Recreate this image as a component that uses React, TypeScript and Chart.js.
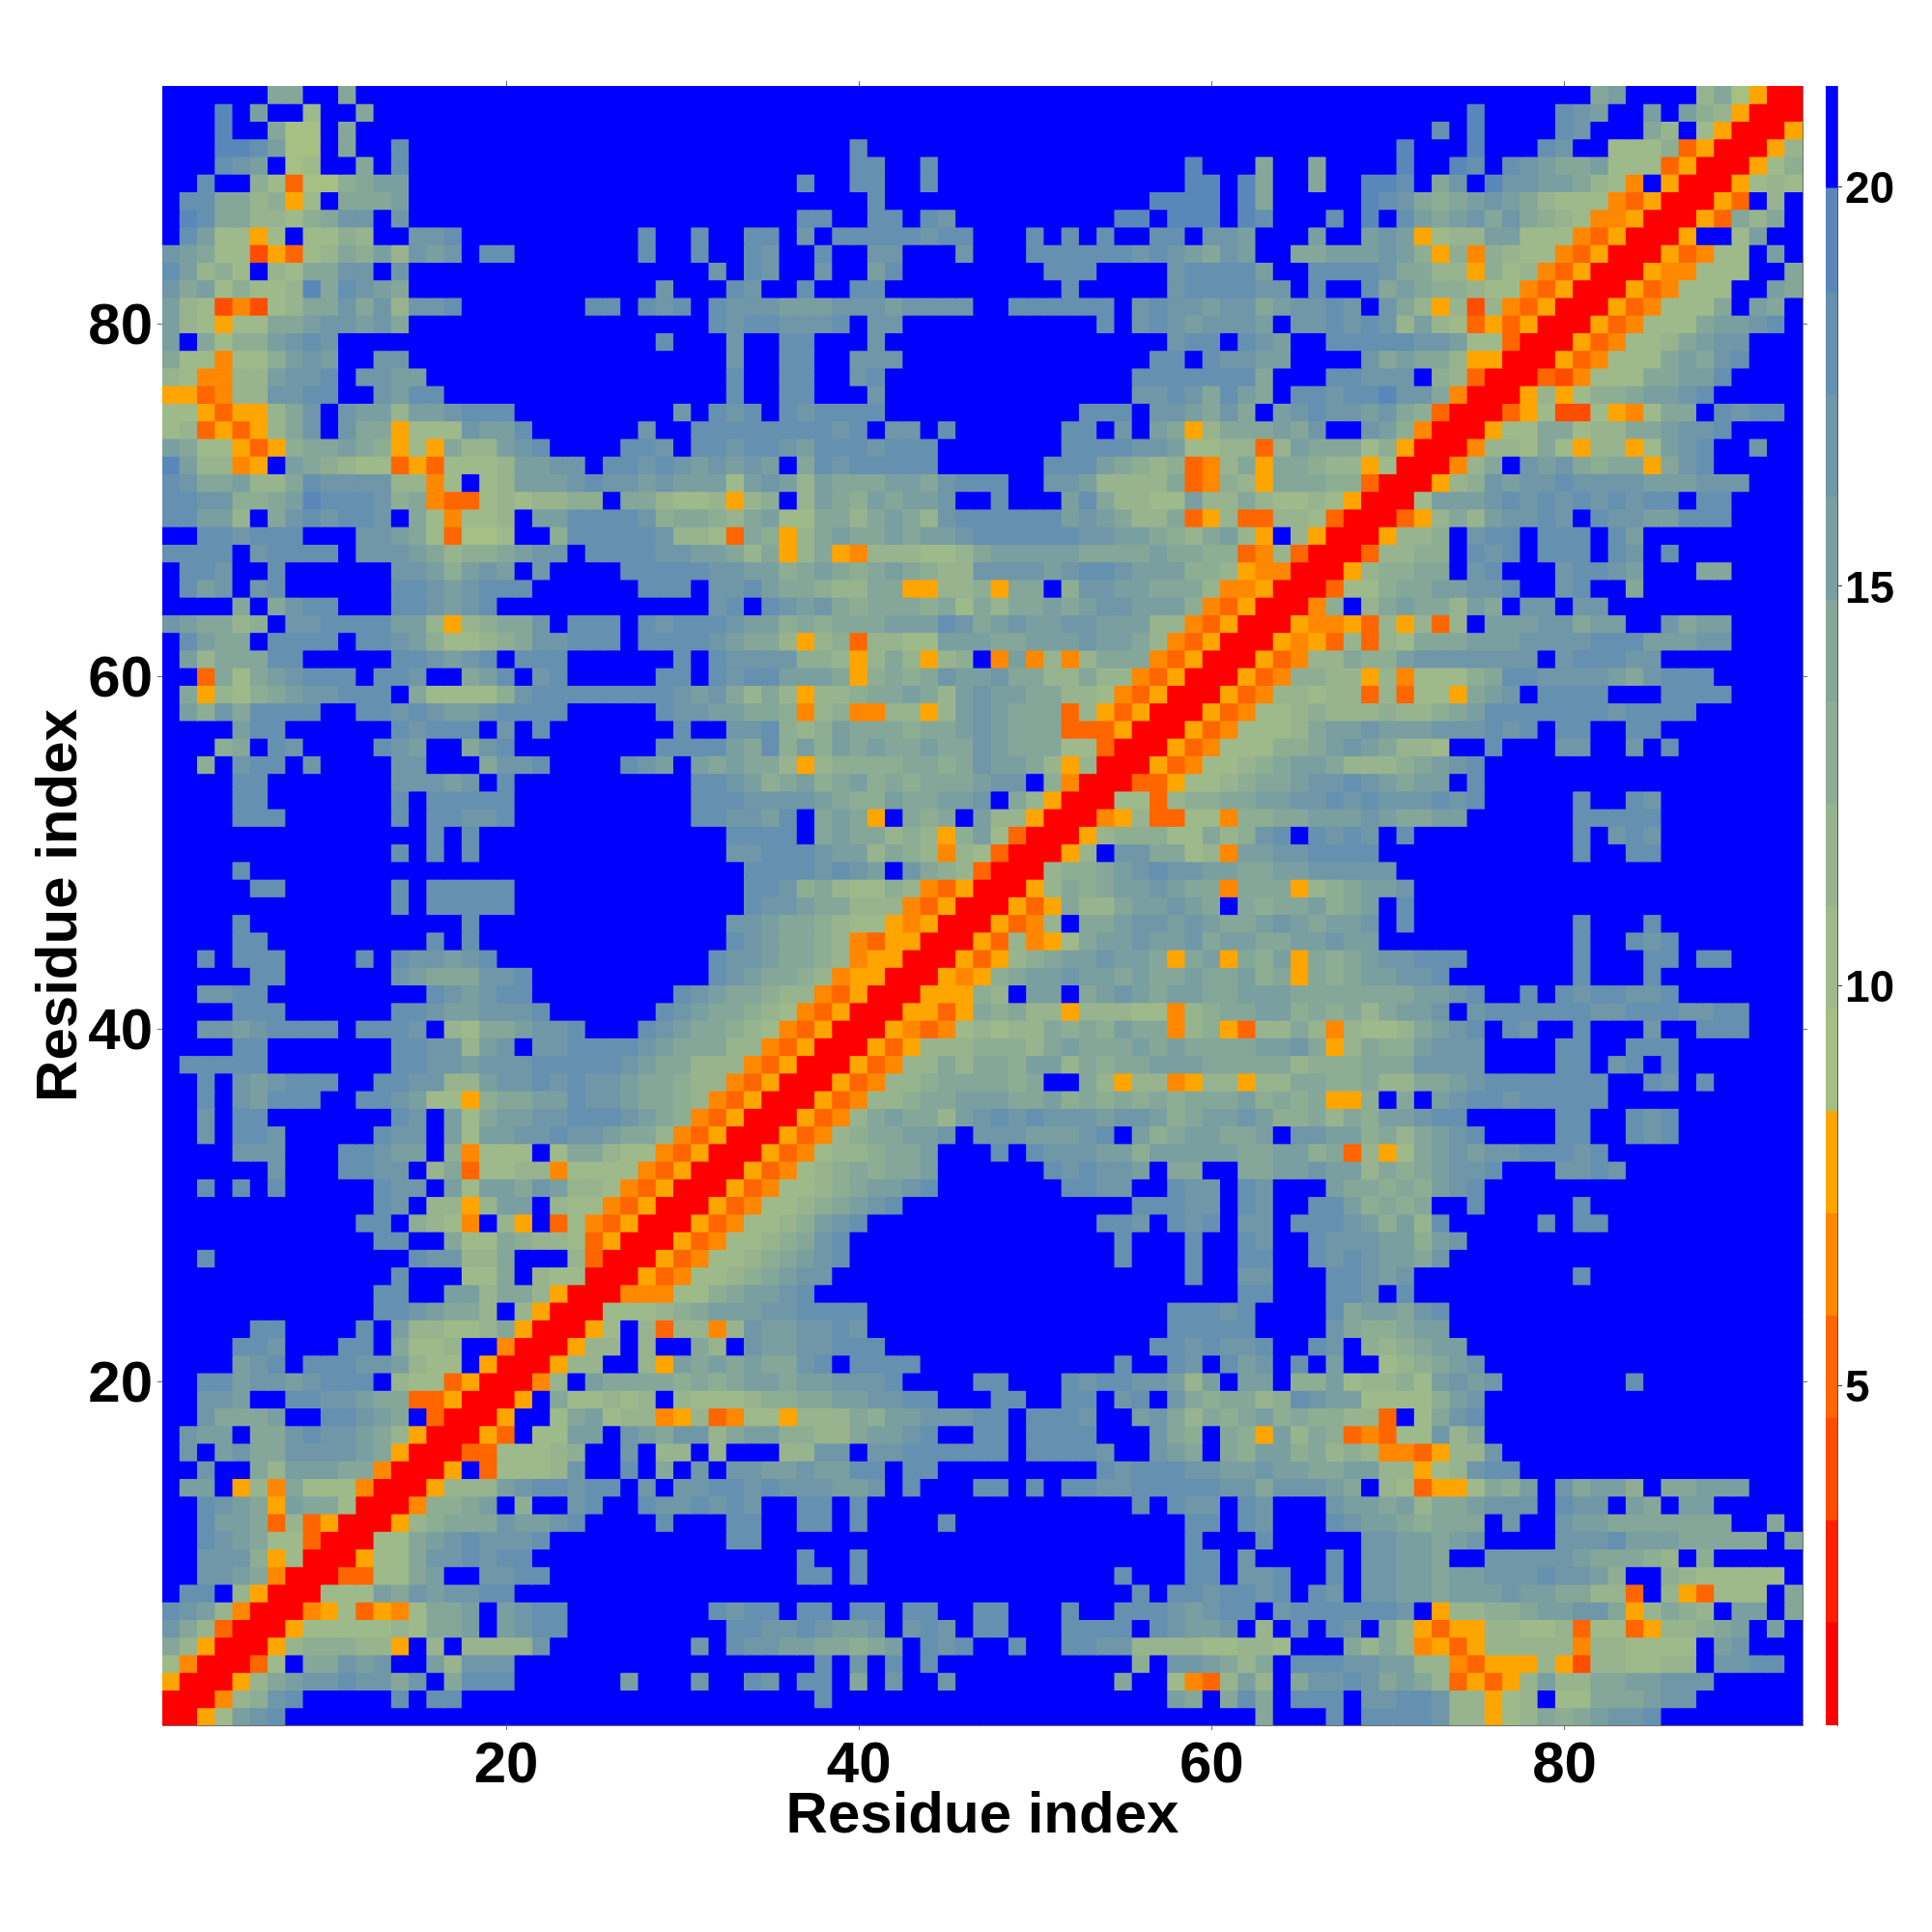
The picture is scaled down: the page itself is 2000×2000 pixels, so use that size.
import React, { useEffect, useRef } from "react";
import { Chart, registerables } from "chart.js";

Chart.register(...registerables);

const residues: number[] = Array.from({ length: 93 }, (_, i) => i + 1);
const axisTicks = [20, 40, 60, 80];
const barTicks = [5, 10, 15, 20];
const binEdges = [0.75, 2.03, 3.31, 4.59, 5.87, 7.15, 8.43, 9.71, 10.99, 12.27, 13.55, 14.83, 16.11, 17.39, 18.67, 19.98, 21.26];
const binColors = ["#ff0000", "#ff2000", "#ff4d00", "#ff6600", "#ff8800", "#ffa500", "#a6c084", "#9fba8a", "#98b48e", "#8eae94", "#85a79a", "#7a9fa0", "#6f97a8", "#6690b0", "#5a87ba", "#0000ff"];

// Per row, from residue 93 down to residue 1: "column:bins", one character per cell. Cells not listed are in the last bin.
const rowBins: string[] = [
  "7:aa 11:a 82:ab 88:8a6 91:5 92:00",
  "4:e 6:b 9:7 12:a 75:e 80:dcb 85:b 87:b987 90:5 91:000",
  "4:e 7:a 8:66 11:a 73:d 75:e 80:dc 85:a8 88:7 89:5 90:000 93:5",
  "4:eedb66 11:a 14:d 40:d 71:e 75:e 79:dc 83:7779 87:35 89:000 92:58",
  "4:dcb 8:67 12:a 14:d 40:dd 44:d 59:e 63:a 66:a 71:e 74:ed 77:dcbaab 83:777 86:35 88:000 91:579",
  "3:d 6:973 9:669a 13:bb 37:d 40:dd 44:d 59:ee 62:ea 66:a 69:eed 73:ac 76:eccbba 82:87 84:4 86:5 87:000 90:5787",
  "2:dd 4:aa89 8:5 9:7 11:aaab 41:d 57:eeee 62:ea 69:edc 72:a9abcba87 81:77 83:435 86:000 89:53 92:8",
  "2:edaa887 9:9a 11:cc 14:c 37:dd 41:dd 44:dc 55:ee 58:eee 62:ed 67:d 69:e 71:dbabcaca9 80:87 82:445 85:000 88:53a8a",
  "2:db775 7:7 9:7798 15:ccd 28:d 31:d 34:dd 37:c 39:dddddcdd 50:d 52:d 54:d 57:dd 60:ccb 66:b 69:bcba 72:5 73:788bb 78:777 81:435 84:000 87:5 90:7b",
  "1:cba77 6:253 9:78a9b8 15:cbc 19:dd 28:d 31:d 34:dc 38:d 41:cc 46:c 50:dddddd 56:cdcbacb 65:aabbbcb 72:9 73:5 74:9 75:4 76:9877 80:435 83:000 86:534 89:77 92:b",
  "1:db897 7:87aacc 14:c 32:c 34:dc 38:c 41:bd 51:ddd 58:cddddb 66:ddddca 72:a88 75:5 76:978 79:43 81:5 82:000 85:544 88:777 93:a",
  "1:cab7977 8:8ead 12:cba 29:c 33:dc 37:d 40:dd 52:d 58:cddddcc 66:d 69:dab 72:a9987 77:7 78:435 81:000 84:534 87:777 92:ba",
  "1:b87 4:242 7:78aacac8 15:ccd 25:dd 28:dcd 32:dcccbbbcccbcccc 49:dddddd 56:cdccbccab 65:ccdc 70:ca8 73:5 74:8 75:2 76:8 77:435 80:000 83:534 86:777a 91:ba",
  "1:b87 4:5 5:77aabccbca 32:dcddcccd 41:cc 54:d 56:cdcbcccb 65:ccdcdc8b87 75:3535 79:000 82:534 85:777a 89:bbcd",
  "1:b 3:a7 5:99bcdc 29:d 33:c 36:dd 41:c 58:cdd 62:dcb 67:dddddccb 75:77 77:3 78:000 81:534 84:778a 88:bcc",
  "1:a774 5:779bcb 13:cc 33:c 36:dd 40:ccc 57:dd 60:dccbb 69:cabaa8 75:55 77:000 80:534 83:777abacd",
  "1:8744 5:88bccd 12:ccbb 33:d 36:dd 40:cd 56:ddddddda 67:ddccc 73:98 75:3 76:000 79:324 82:777aabbd",
  "1:5534 5:88ccdd 13:cbdd 33:d 36:dd 41:c 56:ccdcadba 65:ddcddecca 74:4 75:000 78:585 81:79 83:9abbcd",
  "1:77535 6:5 7:8ac 11:cbb8bbcddd 30:c 32:dcd 36:dcdddd 53:ddd 57:ccbaca 64:bcdccbca9 73:3 74:000 77:357 80:22 82:7547aa 89:dcdd",
  "1:78 3:3535 7:8ac 11:caa5 15:777cbbd 28:c 31:dddddddd 39:cd 42:cc 45:d 52:dd 55:c 57:ba5 60:8aaabac 69:cb9 72:4 73:000 76:5 77:77aa788aabccd",
  "1:ba775359 9:aaba95 15:75a88bcd 27:ddc 31:ddcddcbdddc 42:ddd 52:dddd 56:ccb 59:7788 63:3 64:8baaa79 71:5 72:000 75:4 76:887a7 81:5 82:88a 84:5 85:7bcd 91:c",
  "1:eb884 6:5 8:ba98 12:773 15:537778bbcc 26:ddcd 30:cbcbcb 37:a 38:dcddddd 51:dd 53:dba989 59:34 61:8a5 64:aa988 69:57 71:000 74:4 75:8a 78:cbc 81:a9aa 85:5 86:acd",
  "1:dcaab88ad 10:cccc88 16:4 17:7 19:78bbbcdcc 28:bcbbb 33:7bcb8baaabbac 46:ddd 51:ccb8888a 59:34 61:98 63:5 64:aaa99 69:3 70:000 73:5 74:89cbccdc 82:cccbbbccc",
  "1:ddcc99ab 9:edddc9a433 19:7878899 27:aa877 32:85 34:89 37:8ba9babbc 48:d 52:bda8877b 60:88a87 65:787 68:5 69:000 72:7bbbcdcd 80:cdcdcdd 88:dd",
  "1:ddbb8 7:acdcddc 15:a747 19:78 22:bbddd 27:dcb 29:9aa9 33:8 34:ab 36:77 38:aa8aba8cdd 48:dddd 52:bcba88a8 59:35 61:8 62:33 64:8877 67:3 68:000 71:35 73:8a8 76:bccdc 82:dcc 85:bbddd",
  "3:ddcddd 12:ccba7 17:3 18:667 23:9 24:dddddc 30:88 32:7 33:3 34:a9 36:5 37:8abaababbc 47:dddddd 53:ccbba98ab8 63:5 65:8 66:5 67:000 70:5 71:889 75:cdd 79:ddd 83:db",
  "1:dddd 6:cdddd 12:cccba8 18:99abc 23:c 25:ddddcc 31:bba8a 36:5 37:8a 39:54 41:888778 47:abbb 51:bbaaaa 57:baa9 61:9 62:3 63:4 64:8 65:3 66:000 69:3 70:8899 75:dcd 79:ddd 83:dc 86:d",
  "2:ddc 7:d 14:ccb9bcb 22:c 27:dddddcc 34:bb 36:9aba9aba98 46:8 47:cccc 51:bcddcbbb 59:998 62:544 65:000 68:58 70:99aa 75:cd 80:cd 82:dcb 88:aa",
  "2:dbc 6:cd 14:ddcbcddd 28:ddd 32:ccdbaa9 39:88a 42:a 43:55 45:88 47:9 48:5 49:aa 52:9ccbbaaa8 61:445 64:000 67:3 68:77 70:9aabb 75:ccd 80:cd 84:a",
  "5:a 7:acdd 14:ddcbcd 32:cd 35:dcbca9 41:aaa9a7 47:a8aabab 54:ccbbb 59:9 60:435 63:000 66:49 69:8abaa8ba 78:cc 81:cc",
  "1:cbaa89 8:ccdddd 14:bb 16:8 17:5 18:89aac 24:ddd 28:dcdddc 34:bbb 36:9a9aaabbbdc 47:abcbbccbbb 57:88 59:435 62:000 65:5445 69:3 70:8 71:5 72:8 73:3 74:8 76:bbbccabb 86:c 87:abb",
  "2:dbaa 7:dddd 12:ddcb9 17:7789acc 24:ddd 28:ddddcbaa 36:8 37:5 38:89 40:3 41:8877bb 47:baabbbcbba 57:8 58:435 61:000 64:5453 68:8 69:3 70:87aaab 76:bbccccd 83:dd 85:bbbcc",
  "2:b8aaadd 14:ddcbcd 21:ddd 30:d 32:dcccc9 38:98 40:5 41:8a8 44:5 45:89 48:4 49:b 50:4 51:8 52:4 53:8aaa 57:435 60:000 63:534 66:88a99 71:bccccccc 80:cdddcc",
  "3:3a7abcddd 13:ddc 18:abd 22:cd 29:dd 32:dcddbbba 40:5 41:9a9acb 47:bcaa88a88 56:435 59:000 62:534 65:9988 69:5 70:8 71:4 72:7779 76:addccccbac 86:ddd",
  "2:a5 4:879abccddd 15:a77779cddd 25:ddddd 30:cbca8a 36:8 37:5 38:889aaba8b 47:cbbaa887 55:435 58:000 61:534 64:8878 68:8 69:3 70:8 71:3 72:77 74:5 75:abc 79:dddd 86:dddd",
  "2:b9cadddd 12:ddcdcbbcdddd 29:dccbbaa9 37:4 38:89 40:44 42:88 44:5 45:8b 47:cbaaa 52:3 53:8 54:535 57:000 60:534 63:7789888 70:9 71:889abddd 79:ddddcdddd",
  "5:bdd 14:dcdd 18:d 20:c 22:d 30:d 33:ccd9 37:89baaa9aab 47:cbaaa 52:333 55:5 56:000 59:534 62:7778abbcbb 72:bcccdcd 80:dd 84:dd",
  "4:9a 7:dc 13:dcb 18:acd 29:dddd 33:ba 35:d9b9babaab 45:aa 47:cbaaa 52:77 54:3 55:000 58:534 61:777 64:99abcba 71:887 76:d 80:cc 84:c 86:d",
  "3:9 5:cdd 9:c 14:cc 19:accd 27:dcb 31:baba 35:a8 37:5 38:89999aa9 46:a 47:cbba8 52:5 53:8 54:000 57:534 60:7789abba8889ab 74:cd",
  "5:dd 14:cccbc 20:d 31:ddcb 35:9ab9ab9a9aaa 47:bcc 51:9 52:4 53:000 56:33 58:5 59:7789aabccdcbabb 75:d",
  "5:dd 14:d 16:dddd 20:d 31:dddccccb 39:a99baabb 47:c 49:a8 51:5 52:000 55:77 57:3 58:8 59:99aabbccdcdcccdcd 81:d 84:dc",
  "5:ddd 14:d 16:ddccd 31:ddccbd 38:aba 41:5 43:a9a 47:b88 50:5 51:000 54:4 55:5 56:8 57:33 59:77 61:4 62:99aabbbcba 72:abb 81:ddddd",
  "16:d 18:d 33:dddd 38:abaa89 44:8 45:5 46:9 47:b7 49:3 50:000 53:5 54:899977 60:a89cd 66:dcdc 71:d 81:d 83:cdc",
  "14:d 16:d 18:d 33:ccdddcbb 41:8a98 45:4 46:8 47:7 48:3 49:000 52:5 53:8 55:ccaa7 60:8 61:4 62:bbccdddd 81:d 84:dd",
  "5:d 34:ddddcdcb 43:ca98 47:3 48:000 51:899abcdccbbaabbccccc",
  "6:dd 14:d 16:ddddd 34:ddc9a877 42:9 43:8 44:4 45:3 46:5 47:000 50:5 51:8a9abbcbaa 61:4 62:aaa 65:5 66:89abbc",
  "14:d 16:ddddd 34:dccbaa888 43:4 44:3 45:5 46:000 49:535 52:a88abbcba 62:a9aab9ab 71:d",
  "5:d 18:d 33:ccbaa9 39:877 42:545 45:000 48:534 51:8 53:aabccbcba 62:abcbabbc 71:d 81:d 85:d",
  "5:dd 16:d 18:d 33:dcbaa98 40:43 42:55 44:000 47:53 49:8 50:45 52:7abbcbbcabbaabbcbb 81:d 84:dcd",
  "3:d 5:ddd 12:d 14:dccbcd 32:dccbaa98 40:455 43:000 46:5 47:3 48:5 49:89abbcbba 58:5 59:ab 61:5 62:a9b 65:5 66:a9abccddd 81:d 85:dd 88:dd",
  "6:dd 14:cbaa 18:accd 32:dcbaa988 39:45 41:5 42:000 45:54 47:5 48:9abbcbbabaabaab9a 65:5 66:a9abbccd 81:d 85:d",
  "3:ccdd 16:dcbcdd 30:dcbaa988 38:43 40:5 41:000 44:555 47:98 50:bb 53:abcbabbaabbbaaaaaaabbc 75:d 78:d 80:dcddccd",
  "5:ddd 14:ddcbbcccd 29:dcbaa987 37:43 39:5 40:000 43:55 45:3 46:5 47:a9a88 52:5 53:88877 58:4 59:89aabb9a9a8abbc 75:cddddddccdddccd 90:d",
  "3:ccbcdddd 12:dddc 17:87aabccd 28:dcbaa987 36:43 38:5 39:000 42:5434 46:7 47:8788a9a9baa 58:4 59:89 61:5 62:3 63:88a8 67:4 68:8778abcd 77:dc 81:d 85:c 88:ddd",
  "5:dd 14:ddcc8bc 22:ccdddd 28:cbaaa88 35:43 37:5 38:000 41:535 44:888 47:9998abaaa 56:babaaa 62:abbca 67:5 68:8a99bccc 80:dd 84:dd 86:d",
  "2:ddddd 14:ddccbcc 21:cdd 24:ddd 27:cbaa888 34:43 36:5 37:000 40:534 43:88a8 47:aa9bb8a9aabbbaaaaa8999aaacccc 80:dd 83:cd 86:d",
  "3:d 5:cbcddd 13:ddcc8 18:8bccdcdc 26:cbaa988 33:43 35:5 36:000 39:534 42:889 45:aa 47:aa9a 53:a8 55:5 56:88 58:45 60:88 62:5 63:88aa99a88aabc 76:ddddddd 85:dc 88:d",
  "3:d 5:cbddd 12:ddcb 16:77 18:5 19:9aabbdc 26:cbaa98 32:43 34:5 35:000 38:534 41:889aab 47:bbaab9a9a9a9aaab9a9a 67:55 69:9 71:a 73:bcddcddd 81:dd",
  "3:c 5:dd 14:dc 17:b7abbccd 25:ddcba9 31:43 33:5 34:000 37:534 40:8abaa8b 47:cdcdcccbccb9abbcb99a8a9bbcdd 80:dd 84:dcd",
  "3:c 5:ddc 13:dcc 17:b7bbccdd 24:ccbaa8 30:43 32:5 33:000 36:534 39:89aabbc 47:cccbbbcd 56:b9abbaab 65:ccbb9a8abcd 80:dd 84:dcd",
  "5:ccc 11:ddcbb 17:94 19:777 23:7aa877 29:43 31:5 32:000 35:534 38:788 41:9aab 48:d 50:dcccbb9bbb 60:bbaabb9a 68:3 69:8 70:5 71:7abcb 76:ccdddcd",
  "7:c 11:ddcc 16:8a 18:3 19:7788 23:4 24:7777 28:43 30:5 31:000 34:534 37:789a9aab 51:dcdccb 58:aa 62:aabbcbb8a9abc 75:cd 80:ccdc",
  "3:d 5:d 7:d 13:dcc 17:b7bbacb88 26:7 27:43 29:5 30:000 33:534 36:7789abbcd 52:ddcc 58:dcc 62:dc 67:baa9a9bc 75:d",
  "13:dc 16:88 18:5 19:8bb 23:8 24:77 26:43 28:5 29:000 32:534 35:7789abcd 56:dd 58:dcc 62:dc 66:dd 68:b9a9a 75:d 81:d",
  "12:dd 15:987 18:4 20:8 21:5 23:3 24:7 25:43 27:5 28:000 31:534 34:7789bcd 54:ddc 58:dcd 62:cc 65:dddcb9b8 73:d 79:d 81:dd",
  "13:dd 17:a77a 21:9887 25:3 26:5 27:000 30:534 33:7789acd 55:d 59:d 62:dc 66:dcccbb9bc",
  "3:d 15:dcc 18:88a 24:8 25:3 26:000 29:534 32:7789abcd 55:d 59:d 62:dd 66:dcdcbbac",
  "14:d 18:77a 22:877 25:000 28:534 31:7789abcc 59:d 62:cc 67:ddcbc 81:d",
  "13:dd 17:bb8aa8 23:5 24:000 27:444 30:779abbcd 62:dd 67:ddc 71:d",
  "13:ddcbaa8 21:8 22:5 23:000 26:77789abbbccdd 39:dd 58:dddcd 67:dabbacd",
  "6:dd 12:d 14:b88778a 21:5 22:000 25:5 26:7 28:8 29:3 30:88 32:4 33:8cbbccdc 58:ddddd 67:ca99abb",
  "5:ddc 11:dd 14:a778 20:4 21:000 24:5 25:88 28:8 31:a8 34:cbbccddd 57:ddcdccd 66:dc 69:989abb",
  "5:bcd 9:dddc 13:cb877 19:5 20:000 23:5 24:88 28:8 29:5 30:bababaacd 40:dddd 55:d 58:dc 61:d 62:bc 65:d 67:b 70:7 71:89abc",
  "3:ddbccbcddd 14:8773 18:5 19:000 22:4 23:8 25:baaaa9a9abbabbcccd 47:dd 52:dcd 55:dccb8b 62:bb 65:99 67:b 68:78897 73:bcb 76:c 84:d",
  "3:ccb 8:ddccbaa 15:33 17:5 18:000 21:5 23:a 24:77878 30:8777899aabbccdd 48:dd 52:dd 55:cd 58:ca 60:9a 62:a8 64:9dcb 68:b 69:77 71:77 73:9 74:bc",
  "3:caaab 10:ddcba 16:3 17:000 20:5 23:7ab 26:788 29:45 31:8 32:34 34:77 36:5 37:888a9bbccc 47:dd 50:dddc 56:bca8a9ab9a9988 70:3 72:7a 74:cd",
  "2:cbb 6:aa 8:cdccba8 15:5 16:000 19:5 20:3 22:77 24:bb 27:c 28:b 29:acc8 33:a 34:bb9988abbcd 47:dd 50:dddd 57:ca9 61:a9 63:5 64:b8a9 68:34 70:3 71:77 73:c8a",
  "2:c 4:bcaaccccba 14:5 15:000 18:33 20:7778 24:9 27:c 29:8 30:8 32:8 36:88 38:cc 41:ccdddd 47:dd 50:dddd 54:c 57:cba 61:a9bb9a898 70:44 72:3 73:5 74:88 76:c",
  "3:c 6:a8bbbaa 13:4 14:000 17:5 19:3 20:7778c 27:d 29:a 31:c 33:ccbbcbb 40:dd 43:dd 54:dcddd 59:c 60:cbbcbbaabb88 72:5 73:78 75:cdd",
  "2:bb 5:584 8:a777 12:4 13:000 16:5 17:888bcddcdd 28:c 30:ccddcdcccbbc 43:d 47:dd 50:d 52:ddccdddd 60:dccacccba 70:87 72:3 73:55 75:7a9b 80:cabb9 86:aabbb",
  "3:dcba 7:5 8:baa7 12:000 15:4 16:99ab 21:9 24:cd 28:dccdcdc 37:dd 40:d 56:d 58:dcc 62:dc 67:cbbab8aabccc 80:dcc 84:ba 87:bb",
  "3:dbba 7:3 8:8 9:3 10:5 11:000 14:5 15:89aaacbbcd 29:d 33:dd 37:dd 40:d 45:d 59:dd 62:dc 67:dcbba9aaa 77:c 80:cbbaaaaaaa 92:a",
  "3:dcba77 9:3 10:000 13:77 15:abcdcccd 33:dd 59:d 63:d 69:ccbbabc 80:cccdbbbaaa 90:aa 93:a",
  "3:ccca 6:9 7:5 8:7 9:000 12:5 13:77 15:accdcdd 37:d 40:d 59:dd 62:c 67:d 69:ccbba 76:cccc 80:cbaaa98 88:9",
  "3:ccba 7:4 8:000 11:33 13:77ab 19:ccdd 37:dd 40:d 55:d 59:dd 62:ccd 67:d 69:ccbbabbcccdccb9 86:98 88:77777",
  "2:dd 5:85 7:000 10:777ba 15:cbccdd 56:d 58:ddcddcd 66:dc 69:ccbbabbbcbbaa88 84:3 86:8 87:5 88:3 89:777 93:a",
  "1:dcb8 5:4 6:000 9:45 11:7 12:35 14:4 15:7aab 20:b 21:cdd 32:dcdd 37:dd 40:dd 43:dd 47:dd 52:d 55:dddcbcdd 64:c 65:dddd 69:ddc 73:5 74:8899abbcca 84:5 85:8 86:a98 90:bb 93:a",
  "1:ca8 4:3 5:000 8:5 9:777778 15:7aab 20:bcdd 33:ddccdcbbc 43:c 44:dc 47:dd 52:dddd 57:dcbbc 63:8 65:d 67:dc 70:a8 72:5 73:3 74:55 76:88778 81:3 82:77 84:3 85:5 86:889ab 92:b",
  "1:a85 4:000 7:58 9:999888 14:5 16:8 18:8888 22:c 31:c 33:dccbbaa9 41:ab 44:dcd 49:d 52:ddcc 56:888877887 68:a 69:8a 71:8 72:45 74:3 75:5 76:88888 81:4 82:88 84:7777 89:bc",
  "1:74 3:000 6:37 9:aacbc 16:b8 18:ccc 38:d 40:c 42:d 44:d 56:9 58:ccba8a 65:ddd 68:ccbb88 74:43 76:555 79:8 80:5 81:2 82:8 83:87788 89:ccdd",
  "1:5 2:000 5:58ab 9:ccdcc 14:a 15:c 17:a 18:ddd 27:b 31:c 34:dc 37:dd 40:a 42:c 45:c 55:a 58:7 59:43 61:8 62:b8 65:a 66:ccd 69:caba8 74:3535 78:8b 80:88 82:aabbccc",
  "1:000 4:489cd 14:d 16:dd 38:d 58:ba 61:a 62:d 63:a 65:ddd 69:ccddc 74:88 76:5 77:78 80:77aaabcc",
  "1:00 3:57bcd 63:a 67:d 69:ddddc 74:88 76:5 77:78 79:a9abccd",
];

const BIN_DIGITS = "0123456789abcdef";

function binsForRow(text: string): number[] {
  const bins = residues.map(() => 15);
  text.split(" ").forEach((part) => {
    const [start, chars] = part.split(":");
    for (let i = 0; i < chars.length; i++) {
      const col = Number(start) + i;
      if (col <= 93) bins[col - 1] = BIN_DIGITS.indexOf(chars[i]);
    }
  });
  return bins;
}

const FONT = "'Liberation Sans', Arial, sans-serif";
const EDGE = "#6e6e6e";

function keepTicks(values: number[]) {
  return (axis: any) => {
    axis.ticks = values.map((value) => ({ value }));
  };
}

function App() {
  const mainRef = useRef<HTMLCanvasElement | null>(null);
  const barRef = useRef<HTMLCanvasElement | null>(null);

  useEffect(() => {
    const datasets = rowBins.map((text, idx) => {
      const row = 93 - idx;
      const bins = binsForRow(text);
      return {
        data: residues.map(() => [row - 0.5, row + 0.5]),
        backgroundColor: bins.map((b) => binColors[b]),
        borderWidth: 0,
        inflateAmount: 0.5,
        barPercentage: 1,
        categoryPercentage: 1,
        grouped: false,
      };
    });

    const fixedSize = (prop: "width" | "height", size: number) => (axis: any) => {
      axis[prop] = size;
    };

    const main = new Chart(mainRef.current as HTMLCanvasElement, {
      type: "bar",
      data: { labels: residues.map(String), datasets: datasets as any },
      options: {
        animation: false,
        responsive: false,
        devicePixelRatio: 1,
        layout: { padding: 0 },
        plugins: { legend: { display: false }, tooltip: { enabled: false } },
        scales: {
          x: {
            type: "category",
            position: "bottom",
            offset: true,
            afterBuildTicks: (axis: any) => {
              axis.ticks = axisTicks.map((v) => ({ value: v - 1 }));
            },
            afterFit: fixedSize("height", 214),
            grid: { offset: false, drawOnChartArea: false, tickLength: 5, color: EDGE, lineWidth: 1 },
            border: { color: EDGE, width: 1 },
            ticks: { autoSkip: false, maxRotation: 0, padding: 1, color: "#000", font: { family: FONT, size: 60, weight: "bold" } },
            title: { display: true, text: "Residue index", color: "#000", font: { family: FONT, size: 60, weight: "bold" }, padding: { top: 0, bottom: 84 } },
          },
          y: {
            type: "linear",
            position: "left",
            min: 0.5,
            max: 93.5,
            afterBuildTicks: keepTicks(axisTicks),
            afterFit: fixedSize("width", 168),
            grid: { drawOnChartArea: false, tickLength: 5, color: EDGE, lineWidth: 1 },
            border: { color: EDGE, width: 1 },
            ticks: { padding: 5, labelOffset: 4, color: "#000", font: { family: FONT, size: 60, weight: "bold" } },
            title: { display: true, text: "Residue index", color: "#000", font: { family: FONT, size: 60, weight: "bold" }, padding: { top: 26, bottom: 26 } },
          },
          xTop: {
            type: "linear",
            position: "top",
            offset: false,
            min: 0.5,
            max: 93.5,
            afterBuildTicks: keepTicks(axisTicks),
            afterFit: fixedSize("height", 89),
            grid: { offset: false, drawOnChartArea: false, tickLength: 5, color: EDGE, lineWidth: 1 },
            border: { color: EDGE, width: 1 },
            ticks: { display: false },
          },
          yRight: {
            type: "linear",
            position: "right",
            min: 0.5,
            max: 93.5,
            afterBuildTicks: keepTicks(axisTicks),
            afterFit: fixedSize("width", 134),
            grid: { drawOnChartArea: false, tickLength: 5, color: EDGE, lineWidth: 1 },
            border: { color: EDGE, width: 1 },
            ticks: { display: false },
          },
        },
      } as any,
    });

    const legend = new Chart(barRef.current as HTMLCanvasElement, {
      type: "bar",
      data: {
        labels: ["bar"],
        datasets: binColors.map((color, i) => ({
          data: [[binEdges[i], binEdges[i + 1]]],
          backgroundColor: color,
          borderWidth: 0,
          inflateAmount: 0.5,
          barPercentage: 1,
          categoryPercentage: 1,
          grouped: false,
        })) as any,
      },
      options: {
        animation: false,
        responsive: false,
        devicePixelRatio: 1,
        layout: { padding: { left: 10, top: 89, bottom: 214, right: 0 } },
        plugins: { legend: { display: false }, tooltip: { enabled: false } },
        scales: {
          x: { display: false },
          y: {
            type: "linear",
            position: "right",
            min: binEdges[0],
            max: binEdges[binEdges.length - 1],
            afterBuildTicks: keepTicks(barTicks),
            afterFit: fixedSize("width", 98),
            grid: { drawOnChartArea: false, tickLength: 5, color: "#333", lineWidth: 1 },
            border: { color: "#555", width: 1 },
            ticks: { padding: 3, labelOffset: 4, color: "#000", font: { family: FONT, size: 46, weight: "bold" } },
          },
        },
      } as any,
    });

    return () => {
      main.destroy();
      legend.destroy();
    };
  }, []);

  return (
    <div style={{ position: "absolute", left: 0, top: 0, width: 2000, height: 2000, background: "#fff" }}>
      <canvas ref={mainRef} width={2000} height={2000} style={{ position: "absolute", left: 0, top: 0 }} />
      <canvas ref={barRef} width={120} height={2000} style={{ position: "absolute", left: 1880, top: 0 }} />
    </div>
  );
}

export default App;
